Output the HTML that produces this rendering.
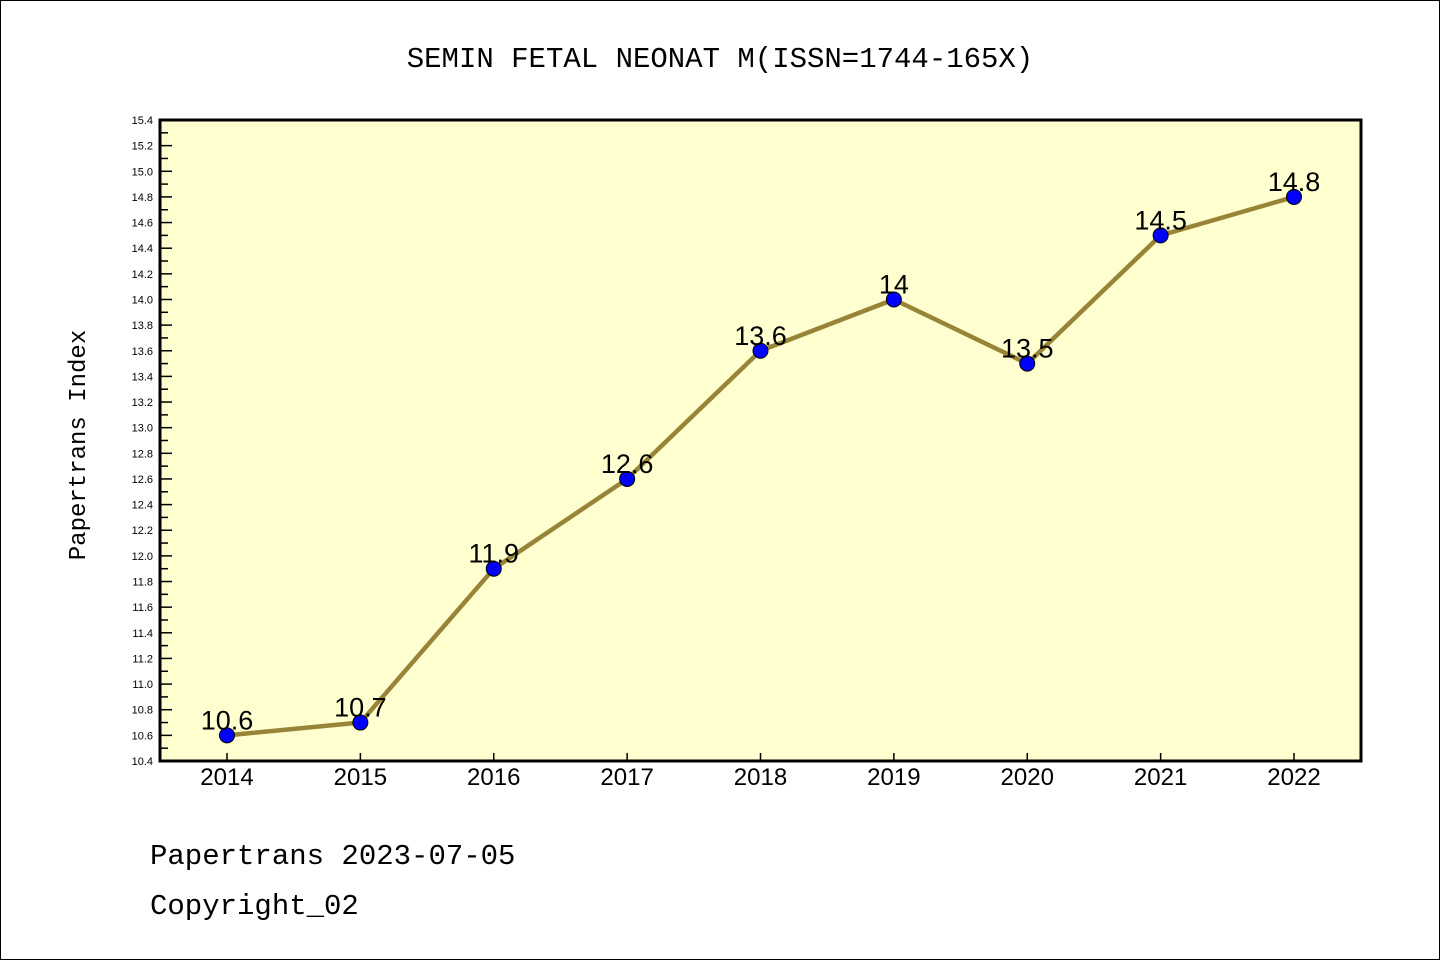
<!DOCTYPE html>
<html><head><meta charset="utf-8"><style>
body{margin:0;background:#fff}
svg{display:block;font-family:"Liberation Sans","WenQuanYi Zen Hei",sans-serif}
</style></head><body>
<svg id="chart" width="1440" height="960" xmlns="http://www.w3.org/2000/svg">
<rect x="0.5" y="0.5" width="1439" height="959" fill="#fff" stroke="#000"/>
<text x="720" y="67" font-size="29" text-anchor="middle" font-family="WenQuanYi Zen Hei, Liberation Mono, monospace">SEMIN FETAL NEONAT M(ISSN=1744-165X)</text>
<rect x="160" y="120" width="1201" height="641" fill="#ffffd0"/>
<g id="yaxis"></g>
<g id="xaxis"></g>
<g id="series"></g>
<rect x="160" y="120" width="1201" height="641" fill="none" stroke="#000" stroke-width="3"/>
<text transform="translate(85,445) rotate(-90)" font-size="24" text-anchor="middle" font-family="WenQuanYi Zen Hei, Liberation Mono, monospace">Papertrans Index</text>
<text x="150" y="864" font-size="29" font-family="WenQuanYi Zen Hei, Liberation Mono, monospace">Papertrans 2023-07-05</text>
<text x="150" y="914" font-size="29" font-family="WenQuanYi Zen Hei, Liberation Mono, monospace">Copyright_02</text>
</svg>
<script>
const years=["2014","2015","2016","2017","2018","2019","2020","2021","2022"];
const values=[10.6,10.7,11.9,12.6,13.6,14.0,13.5,14.5,14.8];
const labels=["10.6","10.7","11.9","12.6","13.6","14","13.5","14.5","14.8"];
const yMin=10.4,yMax=15.4;
const NS="http://www.w3.org/2000/svg";
function X(i){return 227+i*(1294-227)/(years.length-1);}
function Y(v){return 761-(v-yMin)/(yMax-yMin)*641;}
function mk(t,a,p){const e=document.createElementNS(NS,t);for(const k in a)e.setAttribute(k,a[k]);p.appendChild(e);return e;}
const ya=document.getElementById('yaxis');
for(let k=0;k<=50;k++){const v=yMin+k*0.1;const y=Y(v);const major=k%2===0;
 const l=mk('line',{x1:160,x2:major?172:168,y1:y,y2:y,stroke:'#000','stroke-width':1.5},ya);
 
 
 if(major){const t=mk('text',{x:153,y:y+4,'font-size':11,'text-anchor':'end'},ya);t.textContent=v.toFixed(1);
 
 }}
const xa=document.getElementById('xaxis');
years.forEach((yr,i)=>{const x=X(i);
 const l=mk('line',{x1:x,x2:x,y1:761,y2:753,stroke:'#000','stroke-width':1.5},xa);
 
 
 const t=mk('text',{x:x,y:785,'font-size':24,'text-anchor':'middle'},xa);t.textContent=yr;
 
 });
const s=document.getElementById('series');
const pl=mk('polyline',{points:values.map((v,i)=>X(i)+','+Y(v)).join(' '),fill:'none',stroke:'#978436','stroke-width':4.5,'stroke-linejoin':'round'},s);


values.forEach((v,i)=>{
 const c=mk('circle',{cx:X(i),cy:Y(v),r:7.5,fill:'#0000ff',stroke:'#000','stroke-width':1},s);
 
 
 const t=mk('text',{x:X(i),y:Y(v)-6,'font-size':27,'text-anchor':'middle','font-family':'WenQuanYi Zen Hei, Liberation Sans, sans-serif'},s);t.textContent=labels[i];
 
 });
</script>
</body></html>
